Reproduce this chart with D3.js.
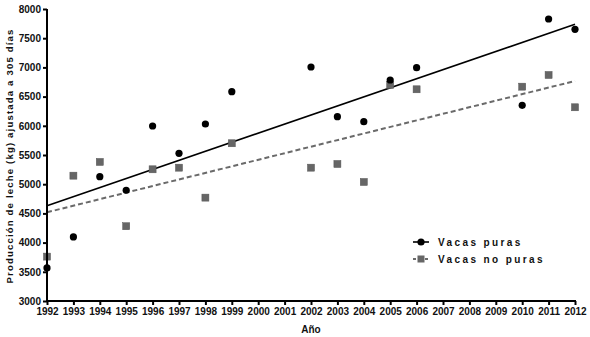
<!DOCTYPE html>
<html><head><meta charset="utf-8">
<script src="https://cdn.jsdelivr.net/npm/d3@7"></script>
<style>body{margin:0;background:#fff}svg{display:block;font-family:"Liberation Sans",Arial,sans-serif}</style>
</head><body><svg id="c" width="590" height="337"></svg>
<script>
const yearTicks = d3.range(1992, 2013);
const yTicks = [3000,3500,4000,4500,5000,5500,6000,6500,7000,7500,8000];
const years = [1992,1993,1994,1995,1996,1997,1998,1999,2002,2003,2004,2005,2006,2010,2011,2012];
const puras = [3566,4097,5129,4896,5997,5529,6031,6584,7007,6156,6071,6784,6995,6351,7829,7652];
const noPuras = [3760,5146,5381,4280,5255,5283,4770,5701,5283,5346,5038,6699,6625,6670,6870,6317];
const trendYears = [1992, 2012];
const trendPuras = [4633, 7738];
const trendNoPuras = [4519, 6767];
const seriesNames = ["Vacas puras", "Vacas no puras"];

const svg = d3.select("#c");
const x = d3.scaleLinear().domain([1992, 2012]).range([47, 575]);
const y = d3.scaleLinear().domain([3000, 8000]).range([301, 9]);

// regression lines
const line = d3.line().x((d,i)=>x(trendYears[i])).y(d=>y(d));
svg.append("path").attr("d", line(trendNoPuras)).attr("fill","none")
  .attr("stroke","#6a6a6a").attr("stroke-width",2).attr("stroke-dasharray","5,3");
svg.append("path").attr("d", line(trendPuras)).attr("fill","none")
  .attr("stroke","#000").attr("stroke-width",1.6);

// points
svg.append("g").selectAll("rect").data(noPuras).join("rect")
  .attr("x",(d,i)=>x(years[i])-3.5).attr("y",d=>y(d)-3.5)
  .attr("width",7).attr("height",7).attr("fill","#666").attr("stroke","#555").attr("stroke-width",0.5);
svg.append("g").selectAll("circle").data(puras).join("circle")
  .attr("cx",(d,i)=>x(years[i])).attr("cy",d=>y(d)).attr("r",3.6).attr("fill","#000");

// axes
const xAxis = svg.append("g").attr("transform","translate(0,301)")
  .call(d3.axisBottom(x).tickValues(yearTicks).tickFormat(d3.format("d")).tickSize(4).tickPadding(3));
const yAxis = svg.append("g").attr("transform","translate(47,0)")
  .call(d3.axisLeft(y).tickValues(yTicks).tickFormat(d3.format("d")).tickSize(4).tickPadding(2));
[xAxis, yAxis].forEach(a=>{
  a.select(".domain").attr("stroke","#000").attr("stroke-width",2);
  a.selectAll(".tick line").attr("stroke","#000").attr("stroke-width",2);
  a.selectAll(".tick text").attr("fill","#111").attr("font-size",10).attr("font-weight","bold")
    .attr("font-family","Liberation Sans, Arial, sans-serif");
});
yAxis.select(".domain").attr("d","M0,301V9");
xAxis.select(".domain").attr("d","M47,0H576");

// axis titles
svg.append("text").attr("x",311).attr("y",333).attr("text-anchor","middle")
  .attr("font-size",10).attr("font-weight","bold").attr("fill","#111").text("Año");
svg.append("text").attr("transform","translate(13,156) rotate(-90)").attr("text-anchor","middle")
  .attr("font-size",9.5).attr("font-weight","bold").attr("fill","#111").attr("letter-spacing",1.2)
  .text("Producción de leche (kg) ajustada a 305 días");

// legend
const lg = svg.append("g");
[0,1].forEach(i=>{
  const ly = 242 + i*17;
  if(i===0){
    lg.append("line").attr("x1",413).attr("x2",429).attr("y1",ly).attr("y2",ly).attr("stroke","#000").attr("stroke-width",1.6);
    lg.append("circle").attr("cx",421).attr("cy",ly).attr("r",3.6).attr("fill","#000");
  } else {
    lg.append("line").attr("x1",413).attr("x2",429).attr("y1",ly).attr("y2",ly).attr("stroke","#6a6a6a").attr("stroke-width",2).attr("stroke-dasharray","3,3");
    lg.append("rect").attr("x",417.5).attr("y",ly-3.5).attr("width",7).attr("height",7).attr("fill","#666");
  }
  lg.append("text").attr("x",438).attr("y",ly+4).attr("font-size",10).attr("font-weight","bold")
    .attr("fill","#111").attr("letter-spacing",2.4).text(seriesNames[i]);
});
</script></body></html>
